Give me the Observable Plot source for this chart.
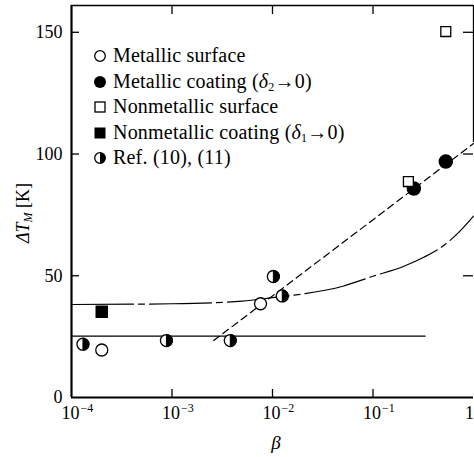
<!DOCTYPE html>
<html><head><meta charset="utf-8">
<script src="https://cdn.jsdelivr.net/npm/d3@7"></script>
<script src="https://cdn.jsdelivr.net/npm/@observablehq/plot@0.6"></script>
<style>
body{margin:0;background:#fff;}
#chart{position:relative;width:474px;height:457px;overflow:hidden;background:#fff;}
#legend{position:absolute;left:0;top:43px;font-family:"Liberation Serif","Tinos","DejaVu Serif",serif;font-size:20px;color:#000;}
#legend .row{position:relative;height:25.5px;line-height:25.5px;white-space:nowrap;}
#legend .row svg{position:absolute;left:93px;top:6px;}
#legend .row span.t{position:absolute;left:113px;top:0;letter-spacing:0.2px;}
#legend sub{font-size:12px;vertical-align:-3px;line-height:0;}
</style></head><body><div id="chart"><div id="legend"></div></div>
<script>
// ---- data ----
const metalSurfBeta = [2e-4, 7.6e-3];
const metalSurfDT = [19.5, 38.5];
const metalCoatBeta = [0.255, 0.53];
const metalCoatDT = [85.8, 96.9];
const nonmetalSurfBeta = [0.225, 0.53];
const nonmetalSurfDT = [88.7, 150.3];
const nonmetalCoatBeta = [2e-4];
const nonmetalCoatDT = [35.2];
const refBeta = [1.3e-4, 8.8e-4, 3.8e-3, 1.02e-2, 1.25e-2];
const refDT = [21.9, 23.4, 23.4, 49.7, 41.7];
const flatBeta = [1e-4, 0.33];
const flatDT = [25.2, 25.2];
const curveBeta = [1e-4, 1e-3, 5e-3, 1e-2, 2e-2, 5e-2, 0.1, 0.2, 0.32, 0.5, 0.7, 1];
const curveDT = [38.2, 38.5, 39.6, 41.0, 42.5, 45.7, 49.8, 53.8, 57.6, 62.3, 67.5, 74.5];
const dashBeta = [2.6e-3, 1];
const dashDT = [23.4, 104.3];
const xDomain = [1e-4, 1];
const yDomain = [0, 161];
const xTicks = [1e-4, 1e-3, 1e-2, 1e-1, 1];
const xTickBase = ["10", "10", "10", "10", "1"];
const xTickExp = ["\u22124", "\u22123", "\u22122", "\u22121", ""];
const yTicks = [0, 50, 100, 150];
const legendLabels = [
  "Metallic surface",
  "Metallic coating (<i>\u03b4</i><sub>2</sub>\u21920)",
  "Nonmetallic surface",
  "Nonmetallic coating (<i>\u03b4</i><sub>1</sub>\u21920)",
  "Ref. (10), (11)"
];
const legendSymbols = ["open", "filled", "openSq", "filledSq", "half"];

// ---- helpers ----
const pts = (bs, ds) => bs.map((b, i) => ({beta: b, dt: ds[i]}));
const halfRight = {draw(ctx, size) {
  const r = Math.sqrt(size / Math.PI);
  ctx.moveTo(0, -r); ctx.arc(0, 0, r, -Math.PI / 2, Math.PI / 2); ctx.closePath();
}};

const W = 474, H = 457, mL = 71, mR = 1, mT = 5, mB = 60;
const fw = W - mL - mR, fh = H - mT - mB;
const serif = '"Liberation Serif","Tinos","DejaVu Serif",serif';

const svg = Plot.plot({
  width: W, height: H, marginLeft: mL, marginRight: mR, marginTop: mT, marginBottom: mB,
  style: {fontFamily: serif, fontSize: "18px", background: "white", color: "black"},
  x: {type: "log", domain: xDomain, axis: null},
  y: {domain: yDomain, axis: null},
  marks: [
    Plot.axisY({ticks: yTicks, label: null, tickSize: 0, tickPadding: 9, fontSize: 18, fontFamily: serif, tickFormat: d => String(d)}),
    // frame
    Plot.ruleX([xDomain[0]], {strokeWidth: 2.2}),
    Plot.ruleY([yDomain[0]], {strokeWidth: 2.2}),
    Plot.ruleY([yDomain[1]], {strokeWidth: 1.5}),
    Plot.ruleX([xDomain[1]], {strokeWidth: 1.3, insetBottom: 255}),
    // inward ticks
    Plot.tickX(xTicks.slice(1, -1), {x: d => d, insetTop: fh - 8, strokeWidth: 1.3}),
    Plot.tickX(xTicks.slice(1, -1), {x: d => d, insetBottom: fh - 9, strokeWidth: 1.3}),
    Plot.tickY(yTicks.slice(1), {y: d => d, insetRight: fw - 8, strokeWidth: 1.3}),
    Plot.tickY(yTicks.slice(1), {y: d => d, insetLeft: fw - 10, strokeWidth: 1.3}),
    // lines
    Plot.line(pts(flatBeta, flatDT), {x: "beta", y: "dt", stroke: "black", strokeWidth: 1.2}),
    Plot.line(pts(curveBeta, curveDT), {x: "beta", y: "dt", curve: "monotone-x", stroke: "black", strokeWidth: 1.2, strokeDasharray: "62,5,6,5"}),
    Plot.line(pts(dashBeta, dashDT), {x: "beta", y: "dt", stroke: "black", strokeWidth: 1.2, strokeDasharray: "7,4.5"}),
    // markers
    Plot.dot(pts(metalSurfBeta, metalSurfDT), {x: "beta", y: "dt", r: 6, fill: "white", stroke: "black", strokeWidth: 1.3}),
    Plot.dot(pts(metalCoatBeta, metalCoatDT), {x: "beta", y: "dt", r: 6.5, fill: "black", stroke: "black"}),
    Plot.dot(pts(nonmetalSurfBeta, nonmetalSurfDT), {x: "beta", y: "dt", r: 5.6, symbol: "square", fill: "white", stroke: "black", strokeWidth: 1.3}),
    Plot.dot(pts(nonmetalCoatBeta, nonmetalCoatDT), {x: "beta", y: "dt", r: 6.2, symbol: "square", fill: "black", stroke: "black"}),
    Plot.dot(pts(refBeta, refDT), {x: "beta", y: "dt", r: 6, fill: "white", stroke: "black", strokeWidth: 1.3}),
    Plot.dot(pts(refBeta, refDT), {x: "beta", y: "dt", r: 6, symbol: halfRight, fill: "black", stroke: "black", strokeWidth: 1})
  ]
});

// x tick labels with superscripts, positioned with the x scale
const xs = svg.scale("x");
const sel = d3.select(svg);
const gx = sel.append("g").attr("font-family", serif).attr("fill", "black");
xTicks.forEach((t, i) => {
  const px = xs.apply(t);
  const txt = gx.append("text").attr("x", px).attr("y", mT + fh + 22).attr("font-size", 18);
  if (xTickExp[i]) {
    txt.attr("text-anchor", "start").attr("dx", -9.5);
    txt.append("tspan").text(xTickBase[i]);
    txt.append("tspan").attr("font-size", 12).attr("dy", -7).attr("dx", 1).text(xTickExp[i]);
  } else {
    txt.attr("text-anchor", "end").attr("x", W).text(xTickBase[i]);
  }
});
// axis titles
sel.append("text").attr("x", mL + fw / 2 + 4).attr("y", 449).attr("text-anchor", "middle")
  .attr("font-family", serif).attr("font-size", 19).attr("font-style", "italic").text("\u03b2");
const yl = sel.append("text").attr("transform", "translate(29,213) rotate(-90)").attr("text-anchor", "middle")
  .attr("font-family", serif).attr("font-size", 18);
yl.append("tspan").attr("font-style", "italic").text("\u0394T");
yl.append("tspan").attr("font-style", "italic").attr("font-size", 12).attr("dy", 3).text("M");
yl.append("tspan").attr("dy", -3).text(" [K]");

document.getElementById("chart").prepend(svg);
svg.style.position = "absolute"; svg.style.left = "0"; svg.style.top = "0";

// legend
const symSvg = {
  open: '<circle cx="7" cy="7" r="5.3" fill="white" stroke="black" stroke-width="1.3"/>',
  filled: '<circle cx="7" cy="7" r="6" fill="black"/>',
  openSq: '<rect x="2" y="2" width="10" height="10" fill="white" stroke="black" stroke-width="1.3"/>',
  filledSq: '<rect x="1.5" y="1.5" width="11" height="11" fill="black"/>',
  half: '<circle cx="7" cy="7" r="5.3" fill="white" stroke="black" stroke-width="1.3"/><path d="M7,1.7 A5.3,5.3 0 0 1 7,12.3 Z" fill="black"/>'
};
const legend = document.getElementById("legend");
legendLabels.forEach((lab, i) => {
  const row = document.createElement("div");
  row.className = "row";
  row.innerHTML = `<svg width="14" height="14" viewBox="0 0 14 14">${symSvg[legendSymbols[i]]}</svg><span class="t">${lab}</span>`;
  legend.appendChild(row);
});
</script>
</body></html>
